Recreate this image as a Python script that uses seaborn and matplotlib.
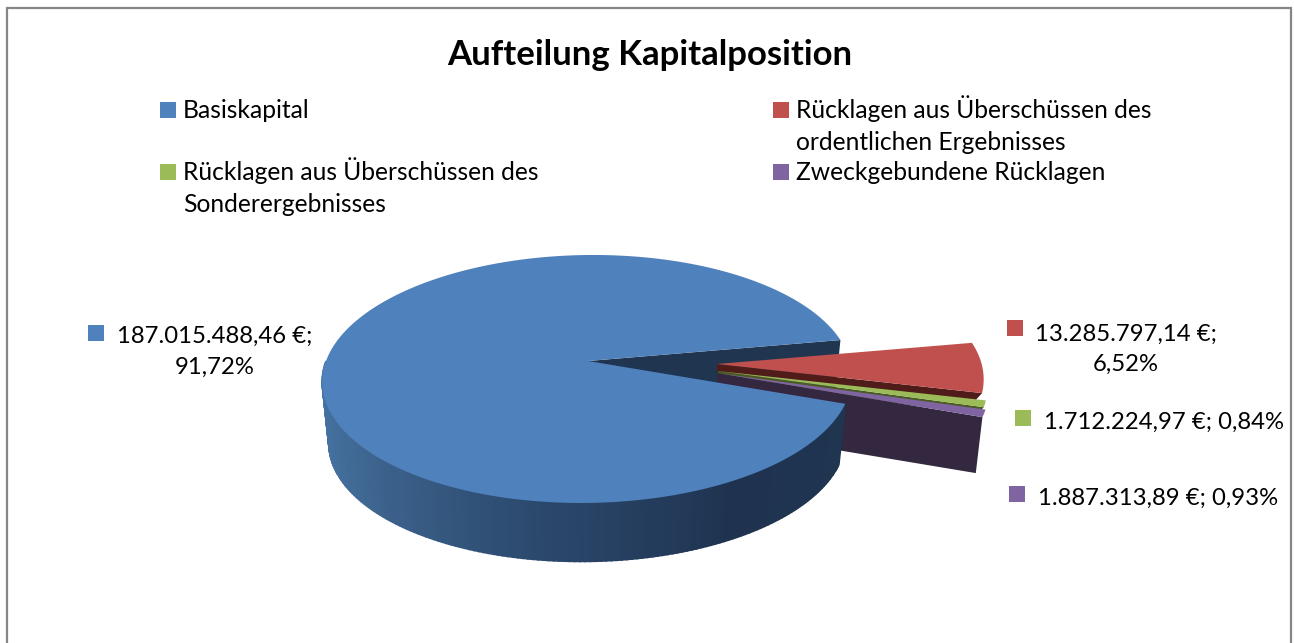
"""Aufteilung Kapitalposition - exploded pseudo-3D pie in the old Excel look."""
import matplotlib
matplotlib.use("Agg")
import matplotlib.pyplot as plt
import numpy as np
import seaborn as sns

sns.set_theme(style="white")
plt.rcParams["font.family"] = ["Lato", "DejaVu Sans"]

TITLE = "Aufteilung Kapitalposition"
categories = ["Basiskapital",
              "Rücklagen aus Überschüssen des\nordentlichen Ergebnisses",
              "Rücklagen aus Überschüssen des\nSonderergebnisses",
              "Zweckgebundene Rücklagen"]
values = [187015488.46, 13285797.14, 1712224.97, 1887313.89]
value_labels = ["187.015.488,46 €;\n91,72%", "13.285.797,14 €;\n6,52%",
                "1.712.224,97 €; 0,84%", "1.887.313,89 €; 0,93%"]
colors = ["#4f81bd", "#c0504d", "#9bbb59", "#8064a2"]
wall_colors = ["#1f3550", "#4f1c1a", "#4a5a23", "#33283f"]

# projection of the unit disc to image pixels (one point perspective)
CX, CY, A, B, K = 588, 361, 262, 121.4, 0.145
SHEAR = -0.05
DEPTH, SLICE_DEPTH, SHRINK = 62, 57, 0.975
# image shift and outer reach of each exploded slice
shifts = [(0, 0), (129, 3), (130, 10), (129, 12)]
reach = [1.0, 1.01, 1.02, 1.03]


def project(theta, r=1.0, shift=(0, 0), bottom=None):
    u, v = r * np.cos(np.radians(theta)), r * np.sin(np.radians(theta))
    w = 1 + K * v
    x, y = A * u / w, -B * v / w
    x = x + SHEAR * y
    if bottom is not None:
        x, y = x * SHRINK, y * SHRINK + bottom
    return CX + x + shift[0], CY + y + shift[1]


def top_face(a0, a1, shift, r=1.0):
    t = np.linspace(a0, a1, 200)
    x, y = project(t, r, shift)
    ax_x, ax_y = project(0.0, 0.0, shift)
    return np.r_[ax_x, x], np.r_[ax_y, y]


def radial_wall(theta, shift, r=1.0, depth=DEPTH):
    x0, y0 = project(theta, 0.0, shift)
    x1, y1 = project(theta, r, shift)
    x2, y2 = project(theta, r, shift, depth)
    x3, y3 = project(theta, 0.0, shift, depth)
    return [x0, x1, x2, x3], [y0, y1, y2, y3]


fig = plt.figure(figsize=(12.94, 6.43), dpi=100)
ax = fig.add_axes([0, 0, 1, 1])
ax.set_xlim(0, 1294)
ax.set_ylim(643, 0)
ax.axis("off")

# slice angles, clockwise from the top edge of the gap
sweep = 360 * np.array(values) / sum(values)
gap_top = 10.2
edges = gap_top - np.cumsum(np.r_[0, sweep[1:]])
gap_bottom = edges[-1]

# inner walls of the big slice
for th in (gap_top, gap_bottom):
    ax.fill(*radial_wall(th, (0, 0)), color=wall_colors[0], lw=0)

# exploded slices, back to front; only the purple wall reaches full height
for i in range(1, 4):
    a0, a1 = edges[i - 1], edges[i]
    d = SLICE_DEPTH if i == 3 else 8
    wx, wy = radial_wall(a1, shifts[i], reach[i], d)
    ax.fill(wx, wy, color=wall_colors[i], lw=0)
    ax.fill(*top_face(a0, a1, shifts[i], reach[i]), color=colors[i], lw=0)

# outer side of the big slice with the left to right shading
angles = np.linspace(180, 360 + gap_bottom, 160)
ramp = sns.blend_palette(["#4a7aad", "#3f6792", "#2c4a6e", "#1f3350", "#1f3550"], len(angles) - 1)
for a0, a1, c in zip(angles[:-1], angles[1:], ramp):
    tx, ty = project(np.array([a0, a1]))
    bx, by = project(np.array([a1, a0]), bottom=DEPTH)
    ax.fill(np.r_[tx, bx], np.r_[ty, by], color=c, lw=1.2)
ax.fill(*top_face(gap_top, 360 + gap_bottom, (0, 0)), color=colors[0], lw=0)

# chart frame, cut off at the bottom of the picture
ax.plot([7, 7, 1290.5, 1290.5], [660, 8, 8, 660], color="#868686", lw=1.6, solid_joinstyle="miter")

ax.text(650, 55, TITLE, ha="center", va="center", fontsize=25, fontweight="bold", color="black")

# legend, one text per line so the baselines stay put
legend_xy = [(168, 110), (781, 110), (168, 172), (781, 172)]
for (x, y), c, name in zip(legend_xy, colors, categories):
    ax.scatter([x], [y], marker="s", s=118, color=c, linewidths=0)
    for n, line in enumerate(name.split("\n")):
        ax.text(x + 15, y + 8 + n * 31.5, line, ha="left", va="baseline", fontsize=17.7, color="black")

# data labels
label_xy = [(215, 352), (1126, 349.5), (1164, 422), (1158, 498.5)]
marker_xy = [(96, 333), (1015, 328), (1023, 418), (1017, 494)]
for (x, y), (mx, my), c, text in zip(label_xy, marker_xy, colors, value_labels):
    ax.scatter([mx], [my], marker="s", s=118, color=c, linewidths=0)
    ax.text(x, y, text, ha="center", va="center", fontsize=17.2, color="black", linespacing=1.56)

fig.savefig("out.png", dpi=100)
